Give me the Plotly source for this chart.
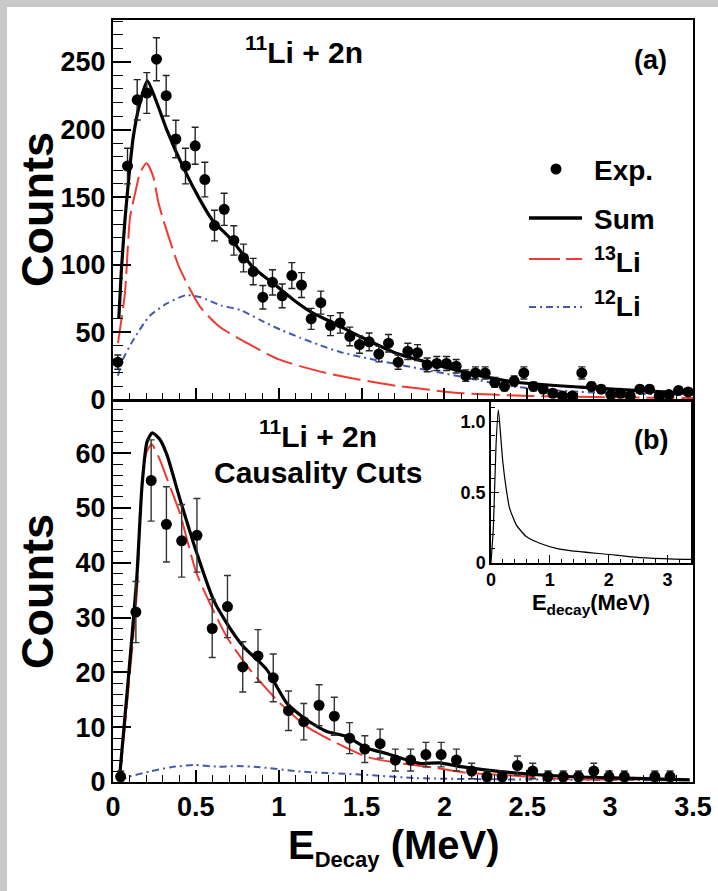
import numpy as np
import plotly.graph_objects as go

W, H = 718, 891
FONT = "Liberation Sans"
RED = "#ee3a30"
BLUE = "#4458b0"

# ---------------- data ----------------
E_MAX = 3.5
# (a) 11Li + 2n : 60 bins over 0-3.5 MeV
a_nbins = 60
a_counts = [28, 173, 222, 227, 252, 225, 193, 173, 188, 163, 129, 141, 118, 105, 95,
            76, 87, 77, 92, 85, 60, 72, 55, 57, 47, 41, 43, 34, 42, 28,
            36, 35, 26, 27, 27, 25, 18, 20, 20, 13, 10, 14, 20, 10, 8,
            5, 3, 3, 20, 10, 8, 4, 5, 3, 8, 8, 3, 4, 7, 6]
a_sum_x = [0.035, 0.05, 0.072, 0.10, 0.123, 0.163, 0.207, 0.264, 0.324, 0.424, 0.525, 0.60,
           0.72, 0.845, 0.97, 1.09, 1.21, 1.33, 1.49, 1.71, 2.11, 2.41, 2.82, 3.32, 3.5]
a_sum_y = [60, 95, 133, 170, 195, 220, 236, 220, 200, 172, 148, 133,
           118, 98, 86, 74, 64, 57, 47, 34.5, 21, 13.5, 9.5, 6, 5]
a_li13_x = [0.03, 0.072, 0.103, 0.143, 0.163, 0.203, 0.243, 0.274, 0.304, 0.40, 0.525, 0.645,
            0.81, 1.0, 1.25, 1.49, 1.71, 2.11, 2.52, 3.0, 3.5]
a_li13_y = [42, 79, 135, 158, 168, 175, 165, 146, 133, 98, 69, 54,
            42, 30, 21, 15, 10.5, 5, 3, 2, 1.5]
a_li12_x = [0.03, 0.06, 0.12, 0.22, 0.32, 0.44, 0.53, 0.65, 0.77, 0.89, 1.01, 1.13,
            1.25, 1.37, 1.53, 1.71, 2.11, 2.41, 2.82, 3.5]
a_li12_y = [18, 30, 44, 62, 71, 77.5, 76, 70, 66.5, 59, 52, 46,
            40.5, 35.5, 31, 26.5, 17, 10, 6, 3.7]

# (b) causality cuts : 38 bins over 0-3.5 MeV
b_nbins = 38
b_counts = [1, 31, 55, 47, 44, 45, 28, 32, 21, 23, 19, 13, 11, 14, 12, 8, 6, 7, 4,
            4, 5, 5, 4, 2, 1, 1, 3, 2, 1, 1, 1, 2, 1, 1, None, 1, 1, None]
b_sum_x = [0.04, 0.09, 0.143, 0.175, 0.205, 0.237, 0.28, 0.324, 0.404, 0.505, 0.605, 0.686, 0.787,
           0.928, 1.048, 1.169, 1.29, 1.41, 1.53, 1.65, 1.85, 1.97, 2.1, 2.34, 2.74, 3.1, 3.48]
b_sum_y = [1, 18, 37, 54, 62, 63.7, 62.6, 59.8, 51.6, 41.8, 33.3, 29, 24.7,
           20.5, 14.4, 11.3, 9.2, 8.3, 6.2, 5.2, 3.4, 3.5, 2.8, 1.9, 1, 0.7, 0.4]
b_li13_x = [0.04, 0.09, 0.143, 0.17, 0.20, 0.233, 0.28, 0.33, 0.404, 0.505, 0.686, 0.826,
            1.007, 1.169, 1.33, 1.53, 1.73, 1.93, 2.13, 2.34, 2.74, 3.1, 3.48]
b_li13_y = [0.6, 16, 34, 52, 60, 61.6, 59, 55, 49, 38, 26.5, 20.5,
            14.4, 10.1, 7.4, 4.6, 3.4, 2.65, 1.7, 1.3, 0.5, 0.45, 0.4]
b_li12_x = [0.04, 0.10, 0.22, 0.35, 0.485, 0.626, 0.75, 0.887, 1.13, 1.53, 1.83, 2.3, 2.8, 3.48]
b_li12_y = [0.3, 1.0, 1.9, 2.7, 3.1, 2.8, 2.9, 2.7, 1.9, 1.3, 0.7, 0.5, 0.4, 0.3]

# inset : normalised decay-energy line shape
ins_x = [0, 0.04, 0.086, 0.125, 0.154, 0.20, 0.257, 0.314, 0.43, 0.60, 0.83, 1.11,
         1.51, 1.97, 2.54, 3.11, 3.4]
ins_y = [0, 0.25, 0.84, 1.085, 0.955, 0.72, 0.53, 0.39, 0.27, 0.187, 0.14, 0.104,
         0.08, 0.062, 0.038, 0.028, 0.026]

x_tickvals = [0, 0.5, 1, 1.5, 2, 2.5, 3, 3.5]
x_ticktext = ["0", "0.5", "1", "1.5", "2", "2.5", "3", "3.5"]
a_yticks = [0, 50, 100, 150, 200, 250]
b_yticks = [0, 10, 20, 30, 40, 50, 60]
ins_xticks = [0, 1, 2, 3]
ins_yticks = [0, 0.5, 1.0]
ins_yticktext = ["0", "0.5", "1.0"]

# bin centres and Poisson errors
def centres(n):
    w = E_MAX / n
    return [(i + 0.5) * w for i in range(n)]

def errs(c):
    return [np.sqrt(v) if v else 0 for v in c]

a_x = centres(a_nbins)
b_x = centres(b_nbins)

# ---------------- helpers ----------------
def px(x):
    return x / W

def py(y):
    return 1 - y / H

fig = go.Figure()

def curves(xs, ys, xa, ya, color, width, dash, name):
    fig.add_trace(go.Scatter(x=xs, y=ys, mode="lines", xaxis=xa, yaxis=ya, name=name,
                             line=dict(color=color, width=width, dash=dash, shape="spline", smoothing=0.6),
                             showlegend=False, hoverinfo="skip"))

LI13_DASH = "28px,7px"
LI12_DASH = "7px,4px,2px,4px"

# panel (a)
curves(a_li12_x, a_li12_y, "x", "y", BLUE, 2, LI12_DASH, "12Li")
curves(a_li13_x, a_li13_y, "x", "y", RED, 2, LI13_DASH, "13Li")
curves(a_sum_x, a_sum_y, "x", "y", "black", 3.2, "solid", "Sum")
fig.add_trace(go.Scatter(x=a_x, y=a_counts, mode="markers", xaxis="x", yaxis="y", name="Exp.",
                         marker=dict(color="black", size=11),
                         error_y=dict(type="data", array=errs(a_counts), color="#222", thickness=1.4, width=3.5),
                         showlegend=False))
# panel (b)
curves(b_li12_x, b_li12_y, "x2", "y2", BLUE, 2, LI12_DASH, "12Li")
curves(b_li13_x, b_li13_y, "x2", "y2", RED, 2, LI13_DASH, "13Li")
curves(b_sum_x, b_sum_y, "x2", "y2", "black", 3.2, "solid", "Sum")
fig.add_trace(go.Scatter(x=b_x, y=b_counts, mode="markers", xaxis="x2", yaxis="y2", name="Exp.",
                         marker=dict(color="black", size=11),
                         error_y=dict(type="data", array=errs(b_counts), color="#333", thickness=1.4, width=3.5),
                         showlegend=False))
# inset
fig.add_trace(go.Scatter(x=ins_x, y=ins_y, mode="lines", xaxis="x3", yaxis="y3",
                         line=dict(color="black", width=1.2, shape="spline", smoothing=0.5),
                         showlegend=False))

X0, X1 = 113, 693
TOP_A, BOT_A = 20, 400
TOP_B, BOT_B = 401, 782

tickfont = dict(family=FONT, size=27, color="black", weight="bold")
common = dict(showgrid=False, zeroline=False, showline=True, linecolor="black", linewidth=2,
              mirror=True, ticks="inside", tickcolor="black", tickwidth=1.5)

fig.update_layout(
    width=W, height=H, margin=dict(l=0, r=0, t=0, b=0, autoexpand=False),
    paper_bgcolor="white", plot_bgcolor="white",
    xaxis=dict(domain=[px(X0), px(X1)], range=[0, E_MAX], anchor="y",
               tickvals=x_tickvals, ticktext=x_ticktext, showticklabels=False, ticklen=12,
               minor=dict(tickmode="linear", tick0=0, dtick=0.1, ticks="inside", ticklen=7,
                          tickcolor="black", tickwidth=1.2), **common),
    yaxis=dict(domain=[py(BOT_A), py(TOP_A)], range=[0, 281], anchor="x",
               tickvals=a_yticks, ticktext=[str(v) for v in a_yticks], ticklen=18, tickfont=tickfont,
               minor=dict(tickmode="linear", tick0=0, dtick=10, ticks="inside", ticklen=10,
                          tickcolor="black", tickwidth=1.2), **common),
    xaxis2=dict(domain=[px(X0), px(X1)], range=[0, E_MAX], anchor="y2",
                tickvals=x_tickvals, ticktext=x_ticktext, ticklen=12, tickfont=tickfont,
                minor=dict(tickmode="linear", tick0=0, dtick=0.1, ticks="inside", ticklen=7,
                           tickcolor="black", tickwidth=1.2), **common),
    yaxis2=dict(domain=[py(BOT_B), py(TOP_B)], range=[0, 69.5], anchor="x2",
                tickvals=b_yticks, ticktext=[str(v) for v in b_yticks], ticklen=18, tickfont=tickfont,
                minor=dict(tickmode="linear", tick0=0, dtick=2, ticks="inside", ticklen=10,
                           tickcolor="black", tickwidth=1.2), **common),
    xaxis3=dict(domain=[px(491), px(691)], range=[0, 3.4], anchor="y3",
                tickvals=ins_xticks, ticktext=[str(v) for v in ins_xticks], ticklen=8,
                tickfont=dict(family=FONT, size=18, color="black", weight="bold"),
                minor=dict(tickmode="linear", tick0=0, dtick=0.2, ticks="inside", ticklen=4,
                           tickcolor="black", tickwidth=1),
                title=dict(text="E<sub>decay</sub>(MeV)", standoff=0,
                           font=dict(family=FONT, size=22, color="black", weight="bold")),
                showgrid=False, zeroline=False, showline=True, linecolor="black", linewidth=1.5,
                mirror=True, ticks="inside", tickcolor="black", tickwidth=1.2),
    yaxis3=dict(domain=[py(563), py(402)], range=[0, 1.14], anchor="x3",
                tickvals=ins_yticks, ticktext=ins_yticktext, ticklen=8,
                tickfont=dict(family=FONT, size=18, color="black", weight="bold"),
                minor=dict(tickmode="linear", tick0=0, dtick=0.1, ticks="inside", ticklen=4,
                           tickcolor="black", tickwidth=1),
                showgrid=False, zeroline=False, showline=True, linecolor="black", linewidth=1.5,
                mirror=True, ticks="inside", tickcolor="black", tickwidth=1.2),
)

def label(text, x, y, size, xanchor="center", angle=0):
    fig.add_annotation(text=text, x=px(x), y=py(y), xref="paper", yref="paper",
                       xanchor=xanchor, yanchor="middle", showarrow=False, textangle=angle,
                       font=dict(family=FONT, size=size, color="black", weight="bold"))

label("Counts", 37, 210, 45, angle=-90)
label("Counts", 37, 592, 45, angle=-90)
label('E<sub><span style="font-size:22px">Decay</span></sub> (MeV)', 394, 847, 40)
label("<sup>11</sup>Li + 2n", 304, 50, 30)
label("(a)", 650, 60, 27)
label("<sup>11</sup>Li + 2n", 318, 434, 30)
label("Causality Cuts", 318, 472, 30)
label("(b)", 651, 440, 27)

# legend
label("Exp.", 592, 170, 28, xanchor="left")
label("Sum", 592, 219, 28, xanchor="left")
label("<sup>13</sup>Li", 592, 260, 28, xanchor="left")
label("<sup>12</sup>Li", 592, 304, 28, xanchor="left")
shapes = [
    dict(type="circle", xref="paper", yref="paper", x0=px(550.5), x1=px(561.5), y0=py(174.5), y1=py(163.5),
         fillcolor="black", line=dict(width=0)),
    dict(type="line", xref="paper", yref="paper", x0=px(529), x1=px(582), y0=py(218), y1=py(218),
         line=dict(color="black", width=3.5)),
    dict(type="line", xref="paper", yref="paper", x0=px(529), x1=px(582), y0=py(259), y1=py(259),
         line=dict(color=RED, width=2, dash="31px,6px")),
    dict(type="line", xref="paper", yref="paper", x0=px(529), x1=px(582), y0=py(307), y1=py(307),
         line=dict(color=BLUE, width=2, dash=LI12_DASH)),
    # grey frame edges of the page
    dict(type="rect", xref="paper", yref="paper", x0=0, x1=1, y0=py(7), y1=1,
         fillcolor="#c8c8c8", line=dict(width=0), layer="below"),
    dict(type="rect", xref="paper", yref="paper", x0=0, x1=px(7), y0=0, y1=1,
         fillcolor="#c8c8c8", line=dict(width=0), layer="below"),
]
fig.update_layout(shapes=shapes)

fig.write_html("out.html", config={"displayModeBar": False},
               post_script="document.body.style.margin='0';document.documentElement.style.overflow='hidden';document.body.style.overflow='hidden';")
